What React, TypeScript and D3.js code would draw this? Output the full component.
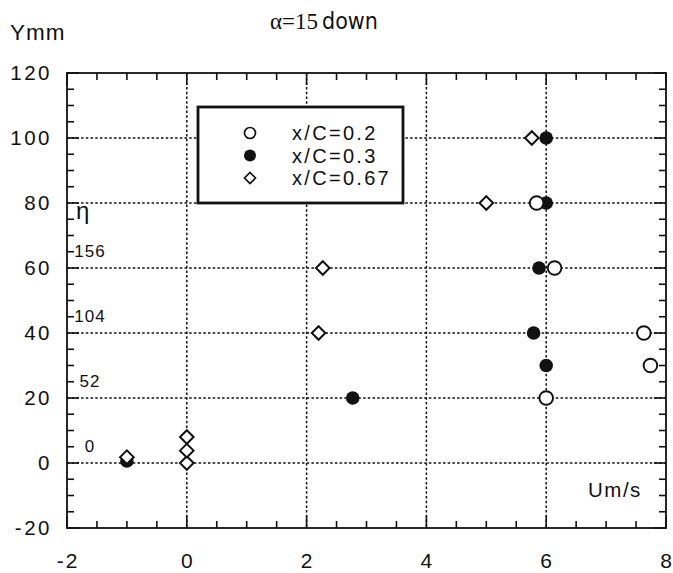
import React from "react";
import * as d3 from "d3";

const xTicks = [-2, 0, 2, 4, 6, 8];
const yTicks = [-20, 0, 20, 40, 60, 80, 100, 120];
const xGrid = [0, 2, 4, 6];
const yGrid = [0, 20, 40, 60, 80, 100];
const etaLabels = ["0", "52", "104", "156"];
const etaValues = [0, 20, 40, 60];

const openU = [6.0, 7.74, 7.63, 6.14, 5.84];
const openY = [20, 30, 40, 60, 80];
const filledU = [-1.0, 2.77, 6.0, 5.79, 5.88, 6.0, 6.0];
const filledY = [0.6, 20, 30, 40, 60, 80, 100];
const diamU = [-1.0, 0, 0, 0, 2.2, 2.27, 5.0, 5.76];
const diamY = [1.8, 0, 3.8, 8, 40, 60, 80, 100];

const legendLabels = ["x/C=0.2", "x/C=0.3", "x/C=0.67"];

const W = 673, H = 573;
const L = 67, R = 666, T = 73, B = 528;

export default function App() {
  const x = d3.scaleLinear().domain([-2, 8]).range([L, R]);
  const y = d3.scaleLinear().domain([-20, 120]).range([B, T]);
  const font = "'Liberation Sans', Arial, Helvetica, sans-serif";
  const xMinor = d3.range(-2, 8.01, 0.5);
  const yMinor = d3.range(-20, 120.01, 5);
  const diamond = (cx: number, cy: number, s: number) =>
    `M${cx},${cy - s}L${cx + s},${cy}L${cx},${cy + s}L${cx - s},${cy}Z`;
  const ink = "#111";

  return (
    <svg width={W} height={H} style={{ position: "absolute", left: 0, top: 0, background: "#fff" }}>
      <rect x={0} y={0} width={W} height={H} fill="#fff" />
      {/* grid */}
      {xGrid.map((v) => (
        <line key={"gx" + v} x1={x(v)} x2={x(v)} y1={T} y2={B} stroke={ink} strokeWidth={1.5} strokeDasharray="2.5,2.2" />
      ))}
      {yGrid.map((v) => (
        <line key={"gy" + v} x1={L} x2={R} y1={y(v)} y2={y(v)} stroke={ink} strokeWidth={1.5} strokeDasharray="2.5,2.2" />
      ))}
      {/* ticks */}
      {xMinor.map((v, i) => {
        const major = Math.abs(v % 2) < 1e-6;
        const len = major ? 12 : 7;
        return (
          <g key={"xt" + i}>
            <line x1={x(v)} x2={x(v)} y1={B} y2={B - len} stroke={ink} strokeWidth={1.6} />
            <line x1={x(v)} x2={x(v)} y1={T} y2={T + len} stroke={ink} strokeWidth={1.6} />
          </g>
        );
      })}
      {yMinor.map((v, i) => {
        const major = Math.abs(v % 20) < 1e-6;
        const len = major ? 12 : 7;
        return (
          <g key={"yt" + i}>
            <line x1={L} x2={L + len} y1={y(v)} y2={y(v)} stroke={ink} strokeWidth={1.6} />
            <line x1={R} x2={R - len} y1={y(v)} y2={y(v)} stroke={ink} strokeWidth={1.6} />
          </g>
        );
      })}
      <rect x={L} y={T} width={R - L} height={B - T} fill="none" stroke={ink} strokeWidth={1.8} />
      {/* tick labels */}
      {xTicks.map((v) => (
        <text key={"xl" + v} x={x(v) + 1} y={B + 40} textAnchor="middle" fontFamily={font} fontSize={21} letterSpacing={2} fill={ink}>
          {v}
        </text>
      ))}
      {yTicks.map((v) => (
        <text key={"yl" + v} x={L - 15} y={y(v) + 7} textAnchor="end" fontFamily={font} fontSize={20.5} letterSpacing={2.5} fill={ink}>
          {v}
        </text>
      ))}
      {/* eta labels */}
      {etaLabels.map((t, i) => (
        <text key={"eta" + t} x={90} y={y(etaValues[i]) - 11} textAnchor="middle" fontFamily={font} fontSize={17} letterSpacing={1} fill={ink}>
          {t}
        </text>
      ))}
      <text x={76} y={y(80) + 16} fontFamily={font} fontSize={24} fill={ink}>η</text>
      {/* axis titles */}
      <text x={10} y={40} fontFamily={font} fontSize={22.5} letterSpacing={1} fill={ink}>Ymm</text>
      <text x={588} y={y(0) + 34} fontFamily={font} fontSize={20.5} letterSpacing={1.5} fill={ink}>Um/s</text>
      <text x={270} y={29} fontSize={23} fill={ink}>
        <tspan fontFamily="'Liberation Serif', 'Times New Roman', serif">α=15</tspan>
        <tspan fontFamily="'Liberation Sans Narrow', 'DejaVu Sans Condensed', Arial, sans-serif" dx={4}>down</tspan>
      </text>
      {/* legend */}
      <rect x={198} y={107} width={205} height={96} fill="#fff" stroke={ink} strokeWidth={2.8} />
      {legendLabels.map((t, i) => {
        const ly = 133 + i * 22.5;
        return (
          <g key={"lg" + t}>
            {i === 0 && <circle cx={250} cy={ly} r={5.5} fill="#fff" stroke={ink} strokeWidth={1.7} />}
            {i === 1 && <circle cx={250} cy={ly} r={6} fill={ink} />}
            {i === 2 && <path d={diamond(250, ly, 5.5)} fill="#fff" stroke={ink} strokeWidth={1.7} />}
            <text x={292} y={ly + 7} fontFamily={font} fontSize={20} letterSpacing={2.3} fill={ink}>{t}</text>
          </g>
        );
      })}
      {/* data */}
      {filledU.map((u, i) => (
        <circle key={"f" + i} cx={x(u)} cy={y(filledY[i])} r={6.8} fill={ink} />
      ))}
      {diamU.map((u, i) => (
        <path key={"d" + i} d={diamond(x(u), y(diamY[i]), 6.8)} fill="#fff" stroke={ink} strokeWidth={2} />
      ))}
      {openU.map((u, i) => (
        <circle key={"o" + i} cx={x(u)} cy={y(openY[i])} r={6.8} fill="#fff" stroke={ink} strokeWidth={1.9} />
      ))}
    </svg>
  );
}
